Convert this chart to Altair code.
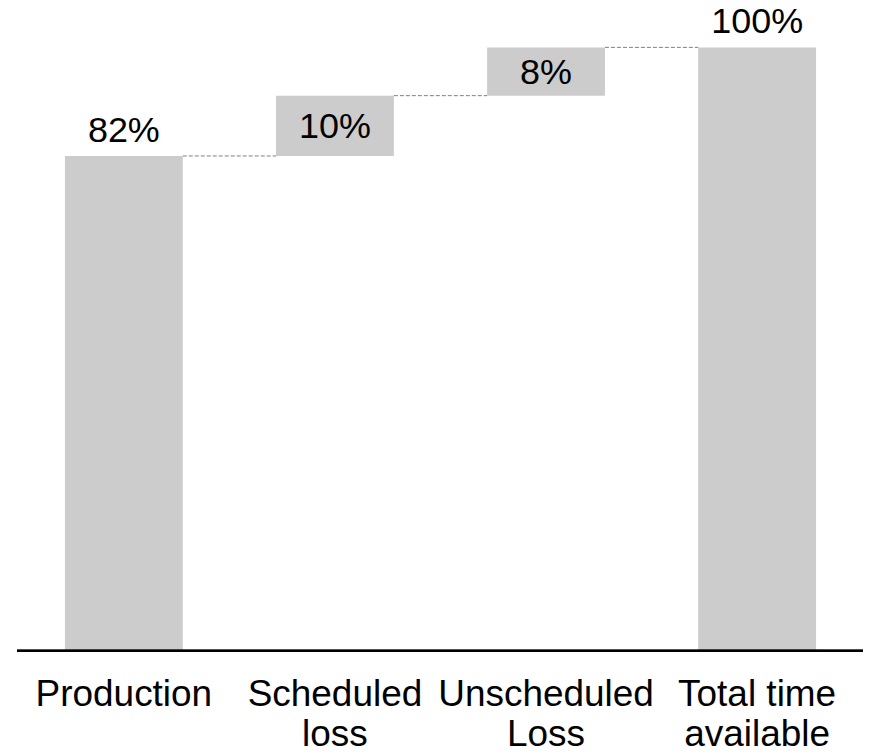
import altair as alt
import pandas as pd

categories = ["Production", "Scheduled\nloss", "Unscheduled\nLoss", "Total time\navailable"]
values = [82, 10, 8, 100]
kinds = ["total", "step", "step", "total"]

starts, ends = [], []
running = 0
for v, k in zip(values, kinds):
    if k == "total":
        starts.append(0)
        ends.append(v)
        running = v
    else:
        starts.append(running)
        running += v
        ends.append(running)

df = pd.DataFrame({
    "cat": categories,
    "value": values,
    "kind": kinds,
    "start": starts,
    "end": ends,
    "mid": [(s + e) / 2 for s, e in zip(starts, ends)],
    "label": [f"{v}%" for v in values],
})

conn = pd.DataFrame({
    "from": categories[:-1],
    "to": categories[1:],
    "level": ends[:-1],
})

FONT = "Liberation Sans"
xscale = alt.Scale(domain=categories, range=[53, 805], paddingInner=0.4416, paddingOuter=0)
yscale = alt.Scale(domain=[0, 100], nice=False, zero=True)

xaxis = alt.Axis(title=None, domain=False, ticks=False, tickSize=0, labelAngle=0,
                 grid=False,
                 labelFontSize=37, labelFont=FONT, labelColor="#000000",
                 labelPadding=26, labelLimit=500, labelLineHeight=40,
                 labelExpr="split(datum.label, '\\n')")

base = alt.Chart(df)

bars = base.mark_bar(color="#cccccc").encode(
    x=alt.X("cat:N", scale=xscale, sort=categories, axis=xaxis),
    y=alt.Y("start:Q", scale=yscale, axis=None),
    y2="end:Q",
)

connectors = alt.Chart(conn).mark_rule(color="#808080", strokeDash=[4, 2], strokeWidth=1).encode(
    x=alt.X("from:N", scale=xscale, bandPosition=1, axis=xaxis),
    x2=alt.X2("to:N", bandPosition=0),
    y=alt.Y("level:Q", scale=yscale, axis=None),
)

total_labels = base.transform_filter(alt.datum.kind == "total").mark_text(
    font=FONT, fontSize=36, color="#000000", baseline="alphabetic", dy=-14
).encode(
    x=alt.X("cat:N", scale=xscale, sort=categories, axis=xaxis),
    y=alt.Y("end:Q", scale=yscale, axis=None),
    text="label:N",
)

step_labels = base.transform_filter(alt.datum.kind == "step").mark_text(
    font=FONT, fontSize=36, color="#000000", baseline="middle", dy=1
).encode(
    x=alt.X("cat:N", scale=xscale, sort=categories, axis=xaxis),
    y=alt.Y("mid:Q", scale=yscale, axis=None),
    text="label:N",
)

baseline_rule = alt.Chart(df).mark_rule(color="#000000", strokeWidth=2).encode(
    x=alt.value(5), x2=alt.value(852), y=alt.value(604)
)

chart = alt.layer(bars, connectors, baseline_rule, total_labels, step_labels).properties(
    width=852, height=604,
    background="#ffffff",
    padding={"left": 4, "top": 39, "right": 0, "bottom": 97},
    autosize=alt.AutoSizeParams(type="none"),
).configure_view(stroke="transparent", strokeWidth=0).configure_axis(grid=False)

chart.save("out.html", embed_options={"renderer": "svg", "actions": False})
